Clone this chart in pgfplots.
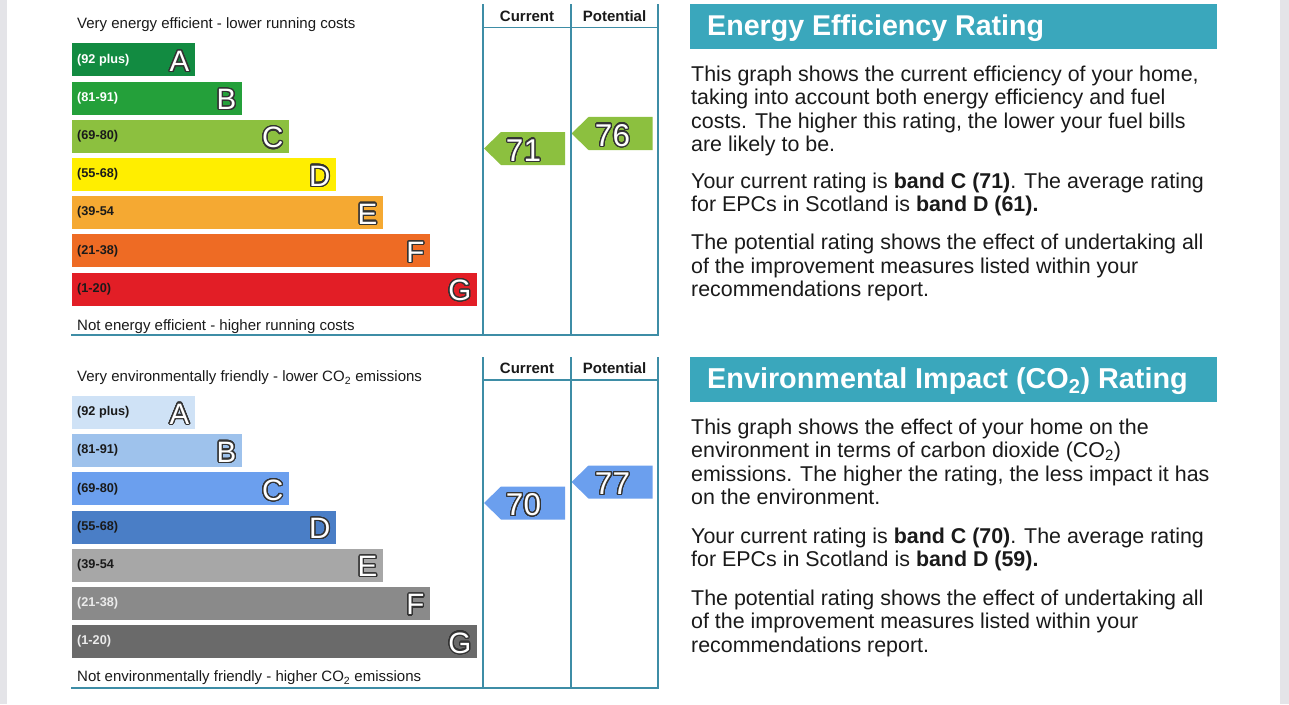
\documentclass[border=0pt]{standalone}
\usepackage{fontspec}
\setmainfont{Liberation Sans}
\usepackage{pgfplots}
\pgfplotsset{compat=1.18}
\usepackage{contour}
\contourlength{1.25pt}
\contournumber{28}

\definecolor{tA}{HTML}{128B41}
\definecolor{tB}{HTML}{24A03A}
\definecolor{tC}{HTML}{8CC03F}
\definecolor{tD}{HTML}{FFEE00}
\definecolor{tE}{HTML}{F5A932}
\definecolor{tF}{HTML}{EE6B24}
\definecolor{tG}{HTML}{E21E26}
\definecolor{bA}{HTML}{CFE2F6}
\definecolor{bB}{HTML}{9EC2EC}
\definecolor{bC}{HTML}{6B9FEE}
\definecolor{bD}{HTML}{4A7EC6}
\definecolor{bE}{HTML}{A7A7A7}
\definecolor{bF}{HTML}{8A8A8A}
\definecolor{bG}{HTML}{6A6A6A}
\definecolor{lineteal}{HTML}{3E8DA6}
\definecolor{headteal}{HTML}{3AA7BC}
\definecolor{txt}{HTML}{1A1A1A}
\definecolor{outl}{HTML}{333333}
\definecolor{strip}{HTML}{E4E4E8}

\pgfdeclareplotmark{epcarrow}{%
  \pgfpathmoveto{\pgfqpoint{1pt}{0pt}}%
  \pgfpathlineto{\pgfqpoint{18pt}{16.5pt}}%
  \pgfpathlineto{\pgfqpoint{82pt}{16.5pt}}%
  \pgfpathlineto{\pgfqpoint{82pt}{-16.5pt}}%
  \pgfpathlineto{\pgfqpoint{18pt}{-16.5pt}}%
  \pgfpathclose
  \pgfusepathqfill}

\newcommand{\letter}[1]{\contour{outl}{\textcolor{white}{#1}}}
\newcommand{\bodyfont}{\fontsize{21.4}{23.5}\selectfont}

\pgfplotsset{
  bandaxis/.style={scale only axis, width=406pt, height=267.2pt,
    xmin=0, xmax=406, ymin=-0.5, ymax=6.5, y dir=reverse, hide axis,
    clip=false, xbar, bar width=33pt, bar shift=0pt},
  rateaxis/.style={scale only axis, width=175pt, height=300pt,
    xmin=0, xmax=2, ymin=0, ymax=100, hide axis, clip=false},
}
\tikzset{
  rng/.style={anchor=west, inner sep=0pt, font=\bfseries\fontsize{12.7}{12.7}\selectfont},
  let/.style={anchor=east, inner sep=0pt, xshift=-5pt, yshift=-2pt, font=\fontsize{29.5}{29.5}\selectfont},
  num/.style={anchor=center, inner sep=0pt, xshift=40.5pt, yshift=-2.5pt, font=\fontsize{31.5}{31.5}\selectfont},
}

\begin{document}
\begin{tikzpicture}
% page
\fill[white] (0pt,0pt) rectangle (1289pt,-704pt);
\fill[strip] (0pt,0pt) rectangle (7pt,-704pt);
\fill[strip] (1280pt,0pt) rectangle (1289pt,-704pt);

% ===================== TOP CHART =====================
\begin{axis}[bandaxis, at={(71.5pt,-40.9pt)}, anchor=north west]
\addplot[fill=tA, draw=none] coordinates {(123,0)};
\addplot[fill=tB, draw=none] coordinates {(170,1)};
\addplot[fill=tC, draw=none] coordinates {(217,2)};
\addplot[fill=tD, draw=none] coordinates {(264,3)};
\addplot[fill=tE, draw=none] coordinates {(311,4)};
\addplot[fill=tF, draw=none] coordinates {(358,5)};
\addplot[fill=tG, draw=none] coordinates {(405,6)};
\node[rng, white] at (axis cs:5.5,0) {(92 plus)};
\node[rng, white] at (axis cs:5.5,1) {(81-91)};
\node[rng, txt] at (axis cs:5.5,2) {(69-80)};
\node[rng, txt] at (axis cs:5.5,3) {(55-68)};
\node[rng, txt] at (axis cs:5.5,4) {(39-54};
\node[rng, txt] at (axis cs:5.5,5) {(21-38)};
\node[rng, txt] at (axis cs:5.5,6) {(1-20)};
\node[let] at (axis cs:123,0) {\letter{A}};
\node[let] at (axis cs:170,1) {\letter{B}};
\node[let] at (axis cs:217,2) {\letter{C}};
\node[let] at (axis cs:264,3) {\letter{D}};
\node[let] at (axis cs:311,4) {\letter{E}};
\node[let] at (axis cs:358,5) {\letter{F}};
\node[let] at (axis cs:405,6) {\letter{G}};
\end{axis}

\begin{axis}[rateaxis, at={(483pt,-361.5pt)}, anchor=south west]
\addplot[only marks, mark=epcarrow, mark options={fill=tC, draw=none}] coordinates {(0,71) (1,76)};
\end{axis}
\begin{axis}[rateaxis, at={(483pt,-361.5pt)}, anchor=south west]
\node[num] at (axis cs:0,71) {\letter{71}};
\node[num, xshift=1.5pt] at (axis cs:1,76) {\letter{76}};
\end{axis}

\draw[lineteal, line width=1.6pt] (483pt,-4pt) -- (483pt,-335pt);
\draw[lineteal, line width=1.6pt] (571pt,-4pt) -- (571pt,-335pt);
\draw[lineteal, line width=1.6pt] (658pt,-4pt) -- (658pt,-335.8pt);
\draw[lineteal, line width=1.6pt] (483pt,-27.5pt) -- (658pt,-27.5pt);
\draw[lineteal, line width=1.6pt] (71pt,-335pt) -- (658.8pt,-335pt);
\node[anchor=base, inner sep=0pt, font=\bfseries\fontsize{15}{15}\selectfont, txt] at (527pt,-21pt) {Current};
\node[anchor=base, inner sep=0pt, font=\bfseries\fontsize{15}{15}\selectfont, txt] at (614.5pt,-21pt) {Potential};
\node[anchor=base west, inner sep=0pt, font=\fontsize{15}{15}\selectfont, txt] at (77pt,-28.5pt) {Very energy efficient - lower running costs};
\node[anchor=base west, inner sep=0pt, font=\fontsize{15}{15}\selectfont, txt] at (77pt,-330pt) {Not energy efficient - higher running costs};

% ===================== BOTTOM CHART =====================
\begin{axis}[bandaxis, at={(71.5pt,-393.4pt)}, anchor=north west]
\addplot[fill=bA, draw=none] coordinates {(123,0)};
\addplot[fill=bB, draw=none] coordinates {(170,1)};
\addplot[fill=bC, draw=none] coordinates {(217,2)};
\addplot[fill=bD, draw=none] coordinates {(264,3)};
\addplot[fill=bE, draw=none] coordinates {(311,4)};
\addplot[fill=bF, draw=none] coordinates {(358,5)};
\addplot[fill=bG, draw=none] coordinates {(405,6)};
\node[rng, txt] at (axis cs:5.5,0) {(92 plus)};
\node[rng, txt] at (axis cs:5.5,1) {(81-91)};
\node[rng, txt] at (axis cs:5.5,2) {(69-80)};
\node[rng, txt] at (axis cs:5.5,3) {(55-68)};
\node[rng, txt] at (axis cs:5.5,4) {(39-54};
\node[rng, white!92!black] at (axis cs:5.5,5) {(21-38)};
\node[rng, white!92!black] at (axis cs:5.5,6) {(1-20)};
\node[let] at (axis cs:123,0) {\letter{A}};
\node[let] at (axis cs:170,1) {\letter{B}};
\node[let] at (axis cs:217,2) {\letter{C}};
\node[let] at (axis cs:264,3) {\letter{D}};
\node[let] at (axis cs:311,4) {\letter{E}};
\node[let] at (axis cs:358,5) {\letter{F}};
\node[let] at (axis cs:405,6) {\letter{G}};
\end{axis}

\begin{axis}[rateaxis, at={(483pt,-713pt)}, anchor=south west]
\addplot[only marks, mark=epcarrow, mark options={fill=bC, draw=none}] coordinates {(0,70) (1,77)};
\end{axis}
\begin{axis}[rateaxis, at={(483pt,-713pt)}, anchor=south west]
\node[num] at (axis cs:0,70) {\letter{70}};
\node[num, xshift=1.5pt] at (axis cs:1,77) {\letter{77}};
\end{axis}

\draw[lineteal, line width=1.6pt] (483pt,-357pt) -- (483pt,-688pt);
\draw[lineteal, line width=1.6pt] (571pt,-357pt) -- (571pt,-688pt);
\draw[lineteal, line width=1.6pt] (658pt,-357pt) -- (658pt,-688.8pt);
\draw[lineteal, line width=1.6pt] (483pt,-380pt) -- (658pt,-380pt);
\draw[lineteal, line width=1.6pt] (71pt,-688pt) -- (658.8pt,-688pt);
\node[anchor=base, inner sep=0pt, font=\bfseries\fontsize{15}{15}\selectfont, txt] at (527pt,-373.5pt) {Current};
\node[anchor=base, inner sep=0pt, font=\bfseries\fontsize{15}{15}\selectfont, txt] at (614.5pt,-373.5pt) {Potential};
\node[anchor=base west, inner sep=0pt, font=\fontsize{15}{15}\selectfont, txt] at (77pt,-381.7pt) {Very environmentally friendly - lower CO\textsubscript{2} emissions};
\node[anchor=base west, inner sep=0pt, font=\fontsize{15}{15}\selectfont, txt] at (77pt,-681.7pt) {Not environmentally friendly - higher CO\textsubscript{2} emissions};

% ===================== RIGHT TEXT =====================
\fill[headteal] (690pt,-4pt) rectangle (1217pt,-49pt);
\node[anchor=base west, inner sep=0pt, font=\bfseries\fontsize{28.6}{28.6}\selectfont, white] at (707pt,-35pt) {Energy Efficiency Rating};
\begin{scope}[every node/.style={anchor=base west, inner sep=0pt, font=\bodyfont, txt}]
\node at (691pt,-81pt) {This graph shows the current efficiency of your home,};
\node at (691pt,-104.5pt) {taking into account both energy efficiency and fuel};
\node at (691pt,-128pt) {costs. The higher this rating, the lower your fuel bills};
\node at (691pt,-151.5pt) {are likely to be.};
\node at (691pt,-188pt) {Your current rating is \textbf{band C (71)}. The average rating};
\node at (691pt,-211.5pt) {for EPCs in Scotland is \textbf{band D (61).}};
\node at (691pt,-249.5pt) {The potential rating shows the effect of undertaking all};
\node at (691pt,-273pt) {of the improvement measures listed within your};
\node at (691pt,-296.5pt) {recommendations report.};
\end{scope}

\fill[headteal] (690pt,-357pt) rectangle (1217pt,-402pt);
\node[anchor=base west, inner sep=0pt, font=\bfseries\fontsize{28.8}{28.8}\selectfont, white] at (707pt,-388pt) {Environmental Impact (CO\textsubscript{2}) Rating};
\begin{scope}[every node/.style={anchor=base west, inner sep=0pt, font=\bodyfont, txt}]
\node at (691pt,-434pt) {This graph shows the effect of your home on the};
\node at (691pt,-457.5pt) {environment in terms of carbon dioxide (CO\textsubscript{2})};
\node at (691pt,-481pt) {emissions. The higher the rating, the less impact it has};
\node at (691pt,-504.5pt) {on the environment.};
\node at (691pt,-543pt) {Your current rating is \textbf{band C (70)}. The average rating};
\node at (691pt,-566.5pt) {for EPCs in Scotland is \textbf{band D (59).}};
\node at (691pt,-605pt) {The potential rating shows the effect of undertaking all};
\node at (691pt,-628.5pt) {of the improvement measures listed within your};
\node at (691pt,-652pt) {recommendations report.};
\end{scope}
\end{tikzpicture}
\end{document}
